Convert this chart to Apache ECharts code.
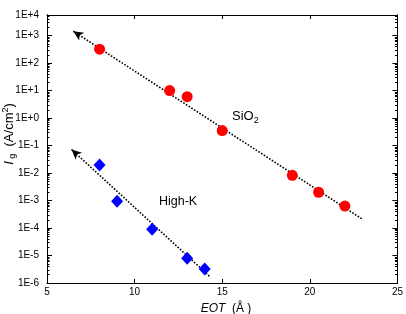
<!DOCTYPE html>
<html>
<head>
<meta charset="utf-8">
<script src="https://cdn.jsdelivr.net/npm/echarts@6/dist/echarts.min.js"></script>
<style>
html,body{margin:0;padding:0;background:#fff;}
#chart{width:406px;height:314px;}
</style>
</head>
<body>
<div id="chart"></div>
<script>
// ---- data ----
const eotSiO2 = [8, 12, 13, 15, 19, 20.5, 22];
const jgSiO2 = [320, 10, 6, 0.35, 0.0083, 0.002, 0.00063];
const eotHighK = [8, 9, 11, 13, 14];
const jgHighK = [0.0195, 0.00094, 9e-5, 8e-6, 3.2e-6];
const fitSiO2Eot = [6.5, 23];
const fitSiO2Jg = [1450, 2.1e-4];
const fitHighKEot = [6.4, 14.3];
const fitHighKJg = [0.072, 1.7e-6];
const xTicks = [5, 10, 15, 20, 25];
const yMin = 1e-6;
const yMax = Math.pow(10, 3.75);
const yTop = Math.pow(10, 3.7499);
const yMajorTicks = [1e-6, 1e-5, 1e-4, 1e-3, 1e-2, 1e-1, 1, 10, 100, 1000, yTop];

const yMinorTicks = [];
for (let k = -6; k <= 3; k++) {
  for (let m = 2; m <= 9; m++) {
    const v = m * Math.pow(10, k);
    if (v < yTop) yMinorTicks.push(v);
  }
}

function fmtE(v) {
  const e = Math.round(Math.log10(v));
  return e >= 0 ? '1E+' + e : '1E' + e;
}

const FONT = '"Liberation Sans", Arial, sans-serif';
const chart = echarts.init(document.getElementById('chart'));

const baseY = {
  type: 'log', min: yMin, max: yMax, logBase: 10,
  axisLine: { show: true, lineStyle: { color: '#000', width: 1 } },
  splitLine: { show: false }, minorTick: { show: false }
};

chart.setOption({
  animation: false,
  backgroundColor: '#fff',
  grid: { left: 47, right: 7, top: 15, bottom: 31 },
  xAxis: [
    {
      type: 'value', min: 5, max: 25, interval: 5, position: 'bottom',
      axisLine: { lineStyle: { color: '#000', width: 1 } },
      axisTick: { inside: true, length: 4, lineStyle: { color: '#000' } },
      axisLabel: { color: '#000', fontSize: 10, fontFamily: FONT, margin: 4,
        customValues: xTicks },
      splitLine: { show: false }
    },
    {
      type: 'value', min: 5, max: 25, interval: 5, position: 'top',
      axisLine: { lineStyle: { color: '#000', width: 1 } },
      axisTick: { inside: true, length: 4, lineStyle: { color: '#000' } },
      axisLabel: { show: false },
      splitLine: { show: false }
    }
  ],
  yAxis: [
    Object.assign({}, baseY, {
      position: 'left',
      axisTick: { inside: true, length: 5, customValues: yMajorTicks, lineStyle: { color: '#000' } },
      axisLabel: { color: '#000', fontSize: 10, fontFamily: FONT, margin: 8,
        customValues: yMajorTicks, formatter: fmtE, hideOverlap: false,
        showMaxLabel: true, showMinLabel: true }
    }),
    Object.assign({}, baseY, {
      position: 'left',
      axisTick: { inside: true, length: 2.5, customValues: yMinorTicks, lineStyle: { color: '#000' } },
      axisLabel: { show: false }
    }),
    Object.assign({}, baseY, {
      position: 'right',
      axisTick: { inside: true, length: 5, customValues: yMajorTicks, lineStyle: { color: '#000' } },
      axisLabel: { show: false }
    }),
    Object.assign({}, baseY, {
      position: 'right',
      axisTick: { inside: true, length: 2.5, customValues: yMinorTicks, lineStyle: { color: '#000' } },
      axisLabel: { show: false }
    })
  ],
  series: [
    {
      name: 'SiO2', type: 'scatter', xAxisIndex: 0, yAxisIndex: 0,
      data: eotSiO2.map((x, i) => [x, jgSiO2[i]]),
      symbol: 'circle', symbolSize: 11,
      itemStyle: { color: '#ff0000', opacity: 1 },
      z: 5,
      markLine: {
        silent: true, symbol: ['arrow', 'none'], symbolSize: [7, 10],
        label: { show: false },
        lineStyle: { color: '#000', type: 'dotted', width: 1.6 },
        data: [[
          { coord: [fitSiO2Eot[0], fitSiO2Jg[0]] },
          { coord: [fitSiO2Eot[1], fitSiO2Jg[1]] }
        ]]
      }
    },
    {
      name: 'High-K', type: 'scatter', xAxisIndex: 0, yAxisIndex: 0,
      data: eotHighK.map((x, i) => [x, jgHighK[i]]),
      symbol: 'diamond', symbolSize: [12, 13],
      itemStyle: { color: '#0000ff', opacity: 1 },
      z: 5,
      markLine: {
        silent: true, symbol: ['arrow', 'none'], symbolSize: [7, 10],
        label: { show: false },
        lineStyle: { color: '#000', type: 'dotted', width: 1.6 },
        data: [[
          { coord: [fitHighKEot[0], fitHighKJg[0]] },
          { coord: [fitHighKEot[1], fitHighKJg[1]] }
        ]]
      }
    }
  ],
  graphic: [
    {
      type: 'text', left: 232, top: 110,
      style: {
        text: '{n|SiO}{s|2}', fill: '#000',
        rich: {
          n: { fontSize: 13, fontFamily: FONT, fill: '#000' },
          s: { fontSize: 9, fontFamily: FONT, fill: '#000', padding: [9, 0, 0, 0] }
        }
      }
    },
    {
      type: 'text', left: 159, top: 195,
      style: { text: 'High-K', fontSize: 12.5, fontFamily: FONT, fill: '#000' }
    },
    {
      type: 'text', x: 9, y: 134, rotation: Math.PI / 2,
      style: {
        text: '{i|I}{s| g}{n|  (A/cm}{p|2}{n|)}', fill: '#000',
        align: 'center', verticalAlign: 'middle',
        rich: {
          i: { fontSize: 13, fontStyle: 'italic', fontFamily: FONT, fill: '#000' },
          s: { fontSize: 9, fontFamily: FONT, fill: '#000', padding: [8, 0, 0, 0] },
          n: { fontSize: 13, fontFamily: FONT, fill: '#000' },
          p: { fontSize: 9, fontFamily: FONT, fill: '#000', padding: [0, 0, 7, 0] }
        }
      }
    },
    {
      type: 'text', x: 226, y: 309,
      style: {
        text: '{i|EOT}{n|  (Å )}', fill: '#000',
        align: 'center', verticalAlign: 'middle',
        rich: {
          i: { fontSize: 12, fontStyle: 'italic', fontFamily: FONT, fill: '#000' },
          n: { fontSize: 12, fontFamily: FONT, fill: '#000' }
        }
      }
    }
  ]
});
</script>
</body>
</html>
